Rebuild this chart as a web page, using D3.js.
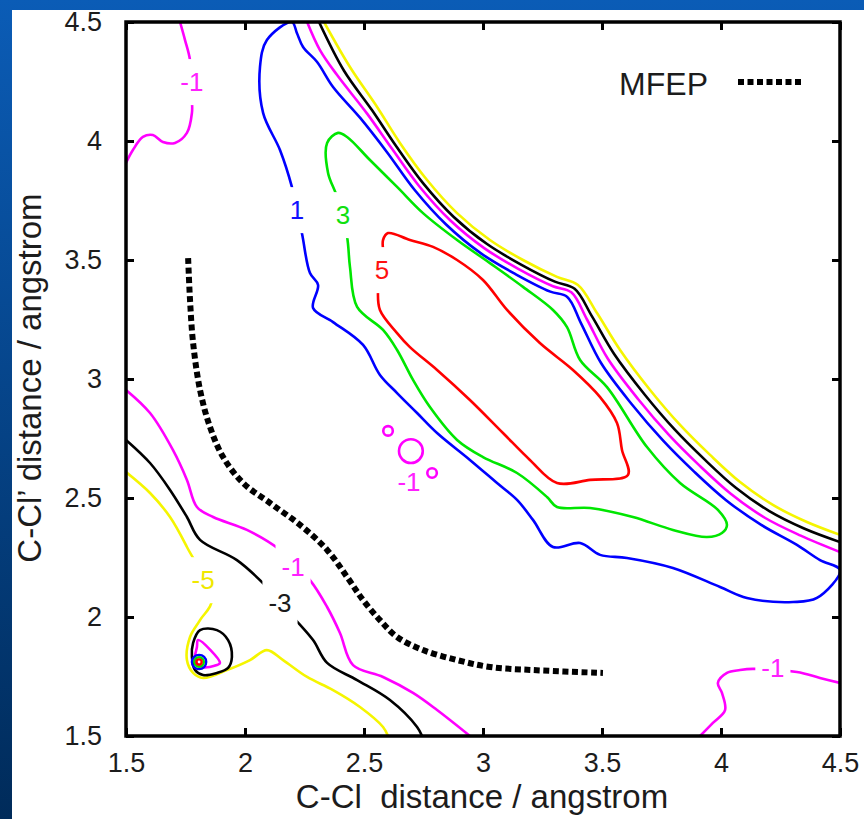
<!DOCTYPE html>
<html lang="en">
<head>
<meta charset="utf-8">
<title>Free energy contours with MFEP</title>
<script src="https://d3js.org/d3.v7.min.js"></script>
<style>
  body { margin: 0; background: #0a4f9c; }
  svg text { font-family: 'Liberation Sans', Arial, sans-serif; fill: #1c1c1c; }
</style>
</head>
<body>
<div id="chart"></div>
<script>
// axis ticks (angstrom)
var tickVals = [1.5, 2, 2.5, 3, 3.5, 4, 4.5];
var tickLabels = ["1.5", "2", "2.5", "3", "3.5", "4", "4.5"];

// contour lines, [C-Cl, C-Cl'] in angstrom
var yellowBand = [[2.332,4.5],[2.441,4.311],[2.555,4.143],[2.651,3.992],[2.765,3.836],[2.891,3.697],[3.029,3.584],[3.168,3.5],[3.311,3.429],[3.399,3.395],[3.479,3.277],[3.576,3.122],[3.702,2.954],[3.828,2.807],[3.954,2.681],[4.08,2.567],[4.218,2.471],[4.361,2.399],[4.5,2.345]];
var blackBand = [[2.311,4.5],[2.416,4.295],[2.534,4.129],[2.634,3.98],[2.748,3.823],[2.876,3.682],[3.017,3.567],[3.158,3.482],[3.302,3.409],[3.385,3.379],[3.458,3.263],[3.551,3.105],[3.679,2.935],[3.806,2.787],[3.934,2.659],[4.061,2.544],[4.203,2.445],[4.349,2.372],[4.5,2.315]];
var magentaBand = [[2.261,4.5],[2.315,4.382],[2.387,4.277],[2.513,4.115],[2.617,3.968],[2.732,3.81],[2.862,3.667],[3.005,3.55],[3.148,3.463],[3.294,3.39],[3.371,3.364],[3.437,3.25],[3.524,3.086],[3.653,2.914],[3.782,2.764],[3.911,2.635],[4.041,2.518],[4.186,2.416],[4.335,2.342],[4.5,2.273]];
var blueLoop = [[2.197,4.5],[2.092,4.424],[2.063,4.311],[2.076,4.118],[2.147,3.962],[2.197,3.807],[2.239,3.613],[2.273,3.445],[2.307,3.395],[2.286,3.298],[2.37,3.239],[2.496,3.143],[2.567,3.017],[2.639,2.941],[2.723,2.857],[2.807,2.773],[2.945,2.66],[3.059,2.563],[3.143,2.492],[3.21,2.408],[3.294,2.294],[3.408,2.311],[3.492,2.261],[3.605,2.248],[3.798,2.206],[3.996,2.126],[4.109,2.08],[4.303,2.063],[4.403,2.08],[4.5,2.197],[4.416,2.239],[4.319,2.303],[4.169,2.387],[4.02,2.492],[3.887,2.611],[3.757,2.741],[3.626,2.893],[3.496,3.067],[3.412,3.234],[3.354,3.345],[3.283,3.367],[3.136,3.441],[2.99,3.529],[2.845,3.649],[2.713,3.794],[2.596,3.954],[2.484,4.097],[2.37,4.227],[2.303,4.332],[2.244,4.395],[2.218,4.454]];
var greenLoop = [[2.391,4.034],[2.345,3.992],[2.349,3.866],[2.387,3.765],[2.429,3.597],[2.441,3.471],[2.471,3.303],[2.58,3.206],[2.639,3.122],[2.706,2.996],[2.777,2.882],[2.891,2.744],[3.0,2.672],[3.143,2.605],[3.269,2.504],[3.311,2.462],[3.45,2.458],[3.63,2.42],[3.798,2.366],[3.941,2.336],[4.004,2.353],[4.025,2.387],[3.987,2.45],[3.828,2.563],[3.689,2.714],[3.521,2.966],[3.408,3.08],[3.353,3.218],[3.294,3.29],[3.168,3.387],[3.029,3.487],[2.891,3.584],[2.748,3.697],[2.639,3.807],[2.525,3.92],[2.429,4.017]];
var redLoop = [[2.601,3.613],[2.693,3.584],[2.79,3.555],[2.891,3.5],[3.0,3.416],[3.101,3.29],[3.239,3.151],[3.378,3.038],[3.492,2.924],[3.563,2.815],[3.584,2.702],[3.609,2.597],[3.45,2.576],[3.311,2.563],[3.197,2.66],[3.084,2.773],[2.945,2.912],[2.807,3.038],[2.693,3.134],[2.639,3.193],[2.567,3.29],[2.559,3.374],[2.58,3.529],[2.58,3.584]];
var magentaUpperLeft = [[1.727,4.5],[1.748,4.424],[1.769,4.34],[1.777,4.172],[1.777,4.118],[1.756,4.034],[1.706,3.992],[1.655,3.996],[1.613,4.025],[1.571,4.017],[1.529,3.962],[1.5,3.908]];
var magentaLowerRight = [[3.912,1.5],[3.966,1.555],[4.017,1.609],[4.004,1.681],[3.987,1.723],[4.025,1.765],[4.08,1.777],[4.134,1.782],[4.319,1.769],[4.416,1.744],[4.5,1.723]];
var magentaLower = [[1.5,2.954],[1.601,2.857],[1.697,2.702],[1.756,2.576],[1.798,2.462],[1.866,2.42],[2.008,2.366],[2.147,2.282],[2.273,2.155],[2.345,2.042],[2.399,1.933],[2.454,1.798],[2.58,1.748],[2.706,1.681],[2.807,1.609],[2.945,1.5]];
var blackLower = [[1.5,2.744],[1.601,2.647],[1.685,2.534],[1.756,2.42],[1.811,2.324],[1.966,2.239],[2.092,2.126],[2.202,2.0],[2.286,1.903],[2.345,1.807],[2.471,1.735],[2.609,1.651],[2.723,1.538],[2.744,1.5]];
var yellowLower = [[1.5,2.609],[1.601,2.521],[1.685,2.42],[1.756,2.294],[1.861,2.071],[1.811,1.987],[1.769,1.916],[1.756,1.819],[1.782,1.765],[1.824,1.744],[1.924,1.777],[2.021,1.819],[2.092,1.861],[2.16,1.819],[2.261,1.748],[2.37,1.693],[2.483,1.622],[2.58,1.538],[2.601,1.5]];
var blackWell = [[1.811,1.945],[1.882,1.945],[1.929,1.903],[1.945,1.832],[1.929,1.786],[1.882,1.765],[1.824,1.756],[1.79,1.777],[1.777,1.832],[1.782,1.891]];
var magentaWell = [[1.803,1.903],[1.895,1.807],[1.882,1.798],[1.819,1.79],[1.79,1.819],[1.798,1.874]];

// small closed rings: [centre x, centre y, radius] in angstrom
var magentaRings = [[2.601,2.782,0.02],[2.697,2.697,0.05],[2.786,2.605,0.02]];
var wellRings = [[1.807,1.811,0.03,"blue"],[1.807,1.811,0.02,"green"],[1.807,1.811,0.011,"red"]];

// minimum free energy path
var mfep = [[1.761,3.508],[1.769,3.332],[1.782,3.151],[1.811,2.954],[1.853,2.798],[1.908,2.672],[1.992,2.563],[2.105,2.479],[2.231,2.387],[2.345,2.282],[2.429,2.168],[2.496,2.071],[2.567,1.987],[2.639,1.916],[2.748,1.861],[2.891,1.819],[3.029,1.79],[3.21,1.777],[3.504,1.765]];

// contour labels: text, x, y, colour
var labels = [
  ["-1", 1.777, 4.248, "magenta"],
  ["1", 2.218, 3.71, "blue"],
  ["3", 2.412, 3.689, "green"],
  ["5", 2.576, 3.458, "red"],
  ["-1", 2.689, 2.567, "magenta"],
  ["-5", 1.824, 2.155, "yellow"],
  ["-3", 2.147, 2.059, "black"],
  ["-1", 2.202, 2.21, "magenta"],
  ["-1", 4.218, 1.786, "magenta"]
];

var colors = { red: "#ff0000", green: "#00e600", blue: "#0000ff", magenta: "#ff00ff", black: "#000000", yellow: "#f5f500" };
var labelColors = { red: "#ff1010", green: "#10e010", blue: "#1010ff", magenta: "#ff20ff", black: "#1a1a1a", yellow: "#f0e800" };

var lines = [
  { pts: yellowBand, c: "yellow", closed: false },
  { pts: blackBand, c: "black", closed: false },
  { pts: magentaBand, c: "magenta", closed: false },
  { pts: blueLoop, c: "blue", closed: true },
  { pts: greenLoop, c: "green", closed: true },
  { pts: redLoop, c: "red", closed: true },
  { pts: magentaUpperLeft, c: "magenta", closed: false },
  { pts: magentaLowerRight, c: "magenta", closed: false },
  { pts: magentaLower, c: "magenta", closed: false },
  { pts: blackLower, c: "black", closed: false },
  { pts: yellowLower, c: "yellow", closed: false },
  { pts: blackWell, c: "black", closed: true },
  { pts: magentaWell, c: "magenta", closed: true }
];

var W = 864, H = 819;
var svg = d3.select("#chart").append("svg").attr("width", W).attr("height", H);

var grad = svg.append("defs").append("linearGradient").attr("id", "bg")
  .attr("x1", 0).attr("y1", 0).attr("x2", 0).attr("y2", 1);
grad.append("stop").attr("offset", "0%").attr("stop-color", "#0b5cb6");
grad.append("stop").attr("offset", "100%").attr("stop-color", "#002b5a");
svg.append("rect").attr("width", W).attr("height", H).attr("fill", "url(#bg)");
svg.append("rect").attr("x", 12).attr("y", 10).attr("width", W - 12).attr("height", H - 10).attr("fill", "#fff");

var x = d3.scaleLinear().domain([1.5, 4.5]).range([126, 840]);
var y = d3.scaleLinear().domain([1.5, 4.5]).range([736, 22]);

svg.select("defs").append("clipPath").attr("id", "plot")
  .append("rect").attr("x", 126).attr("y", 22).attr("width", 714).attr("height", 714);

var plot = svg.append("g").attr("clip-path", "url(#plot)");

var open = d3.line().x(function(d) { return x(d[0]); }).y(function(d) { return y(d[1]); }).curve(d3.curveCatmullRom.alpha(0.5));
var shut = d3.line().x(function(d) { return x(d[0]); }).y(function(d) { return y(d[1]); }).curve(d3.curveCatmullRomClosed.alpha(0.5));

plot.selectAll(".contour").data(lines).enter().append("path")
  .attr("class", "contour")
  .attr("d", function(d) { return d.closed ? shut(d.pts) : open(d.pts); })
  .attr("fill", "none")
  .attr("stroke", function(d) { return colors[d.c]; })
  .attr("stroke-width", 2.6)
  .attr("stroke-linejoin", "round");

// label gaps
var lab = plot.selectAll(".lab").data(labels).enter().append("g").attr("class", "lab");
var gaps = lab.append("rect").attr("fill", "#fff");
plot.selectAll(".ring").data(magentaRings).enter().append("circle")
  .attr("cx", function(d) { return x(d[0]); }).attr("cy", function(d) { return y(d[1]); })
  .attr("r", function(d) { return x(d[0] + d[2]) - x(d[0]); })
  .attr("fill", "none").attr("stroke", colors.magenta).attr("stroke-width", 2.6);
plot.selectAll(".well").data(wellRings).enter().append("circle")
  .attr("cx", function(d) { return x(d[0]); }).attr("cy", function(d) { return y(d[1]); })
  .attr("r", function(d) { return x(d[0] + d[2]) - x(d[0]); })
  .attr("fill", "none").attr("stroke", function(d) { return colors[d[3]]; }).attr("stroke-width", 2.4);

var txt = plot.selectAll(".labtxt").data(labels).enter().append("text")
  .attr("x", function(d) { return x(d[1]); })
  .attr("y", function(d) { return y(d[2]); })
  .attr("dy", "0.35em")
  .attr("text-anchor", "middle")
  .style("font-size", "26px")
  .style("fill", function(d) { return labelColors[d[3]]; })
  .text(function(d) { return d[0]; });
txt.each(function(d, i) {
  var b = this.getBBox();
  d3.select(gaps.nodes()[i]).attr("x", b.x - 6).attr("y", b.y - 8).attr("width", b.width + 12).attr("height", b.height + 16);
});

// MFEP
plot.append("path").attr("d", open(mfep)).attr("fill", "none")
  .attr("stroke", "#000").attr("stroke-width", 6).attr("stroke-dasharray", "6,3.5");

// legend
svg.append("text").attr("x", 708).attr("y", 95).attr("text-anchor", "end").style("font-size", "32px").text("MFEP");
svg.append("line").attr("x1", 738).attr("x2", 804).attr("y1", 82).attr("y2", 82)
  .attr("stroke", "#000").attr("stroke-width", 6).attr("stroke-dasharray", "6,3.5");

// axes, ticks inward
var fmt = function(d, i) { return tickLabels[i]; };
var gx = svg.append("g").attr("transform", "translate(0,736)")
  .call(d3.axisBottom(x).tickValues(tickVals).tickFormat(fmt).tickSize(-8).tickSizeOuter(0).tickPadding(17));
var gy = svg.append("g").attr("transform", "translate(126,0)")
  .call(d3.axisLeft(y).tickValues(tickVals).tickFormat(fmt).tickSize(-8).tickSizeOuter(0).tickPadding(24));
var gt = svg.append("g").attr("transform", "translate(0,22)")
  .call(d3.axisTop(x).tickValues(tickVals).tickFormat("").tickSize(-8).tickSizeOuter(0));
var gr = svg.append("g").attr("transform", "translate(840,0)")
  .call(d3.axisRight(y).tickValues(tickVals).tickFormat("").tickSize(-8).tickSizeOuter(0));
[gx, gy, gt, gr].forEach(function(g) {
  g.select(".domain").remove();
  g.selectAll(".tick line").attr("stroke", "#000").attr("stroke-width", 3);
  g.selectAll("text").style("font-size", "27px").style("fill", "#1c1c1c")
    .style("font-family", "'Liberation Sans', Arial, sans-serif");
});
svg.append("rect").attr("x", 126).attr("y", 22).attr("width", 714).attr("height", 714)
  .attr("fill", "none").attr("stroke", "#000").attr("stroke-width", 3.5);

// axis titles
svg.append("text").attr("x", 482).attr("y", 808).attr("text-anchor", "middle")
  .style("font-size", "33px").style("white-space", "pre").text("C-Cl  distance / angstrom");
svg.append("text").attr("transform", "translate(41,378) rotate(-90)").attr("text-anchor", "middle")
  .style("font-size", "33px").text("C-Cl’ distance / angstrom");
</script>
</body>
</html>
